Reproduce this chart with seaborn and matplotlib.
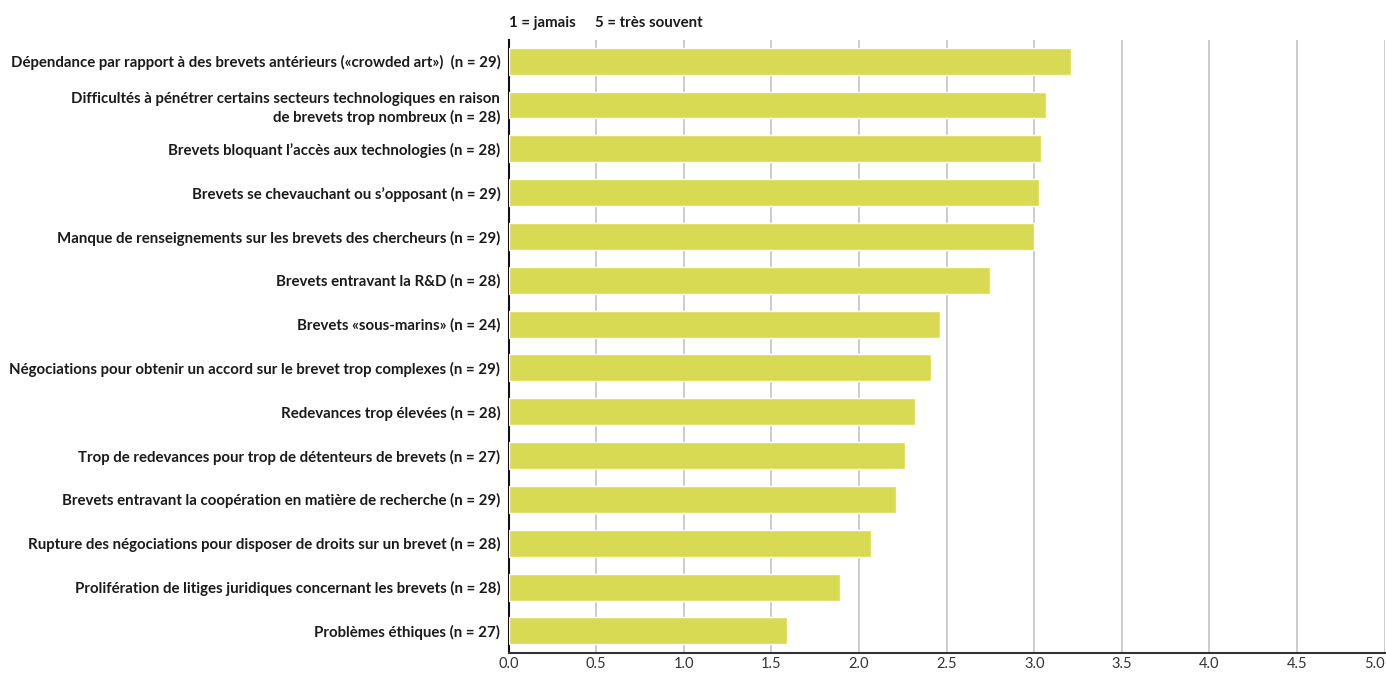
import matplotlib
matplotlib.use('Agg')
import matplotlib.pyplot as plt
import seaborn as sns
import pandas as pd

# données
labels = [
    'Dépendance par rapport à des brevets antérieurs («crowded art»)  (n = 29)',
    'Difficultés à pénétrer certains secteurs technologiques en raison\nde brevets trop nombreux (n = 28)',
    'Brevets bloquant l\u2019accès aux technologies (n = 28)',
    'Brevets se chevauchant ou s\u2019opposant (n = 29)',
    'Manque de renseignements sur les brevets des chercheurs (n = 29)',
    'Brevets entravant la R&D (n = 28)',
    'Brevets «sous-marins» (n = 24)',
    'Négociations pour obtenir un accord sur le brevet trop complexes (n = 29)',
    'Redevances trop élevées (n = 28)',
    'Trop de redevances pour trop de détenteurs de brevets (n = 27)',
    'Brevets entravant la coopération en matière de recherche (n = 29)',
    'Rupture des négociations pour disposer de droits sur un brevet (n = 28)',
    'Prolifération de litiges juridiques concernant les brevets (n = 28)',
    'Problèmes éthiques (n = 27)',
]
scores = [3.21, 3.07, 3.04, 3.03, 3.00, 2.75, 2.46, 2.41, 2.32, 2.26, 2.21, 2.07, 1.89, 1.59]
xticks = [0.0, 0.5, 1.0, 1.5, 2.0, 2.5, 3.0, 3.5, 4.0, 4.5, 5.0]

df = pd.DataFrame({'label': labels, 'score': scores})

sns.set_style('white')
plt.rcParams['font.family'] = ['Lato', 'DejaVu Sans']

fig = plt.figure(figsize=(13.86, 6.73), dpi=100)
ax = fig.add_axes([0.367, 0.03, 0.632, 0.911])

sns.barplot(data=df, x='score', y='label', orient='h', color='#d8da54',
            saturation=1, width=0.615, ax=ax, zorder=3)

ax.set_xlim(0, 5)
ax.set_ylim(13.5, -0.49)
ax.set_xticks(xticks)
ax.set_xticklabels(['%.1f' % t for t in xticks], fontsize=10.5, color='#333333')
ax.get_xticklabels()[-1].set_ha('right')
ax.set_yticks(range(len(labels)))
ax.set_yticklabels(labels, fontsize=10.8, fontweight='bold', color='#1a1a1a',
                   linespacing=1.3)
ax.set_xlabel('')
ax.set_ylabel('')
ax.tick_params(axis='y', length=0, pad=6)
ax.tick_params(axis='x', length=0, pad=3)
ax.grid(axis='x', color='#c8c8c8', linewidth=1.3, zorder=0)
ax.set_axisbelow(True)
for s in ['top', 'right']:
    ax.spines[s].set_visible(False)
ax.spines['left'].set_color('#111111')
ax.spines['left'].set_linewidth(1.5)
ax.spines['bottom'].set_color('#333333')
ax.spines['bottom'].set_linewidth(1.5)

fig.text(0.367, 0.955, '1 = jamais', fontsize=10.8, fontweight='bold',
         color='#1a1a1a', ha='left', va='bottom')
fig.text(0.429, 0.955, '5 = très souvent', fontsize=10.8, fontweight='bold',
         color='#1a1a1a', ha='left', va='bottom')

fig.savefig('out.png', dpi=100)
